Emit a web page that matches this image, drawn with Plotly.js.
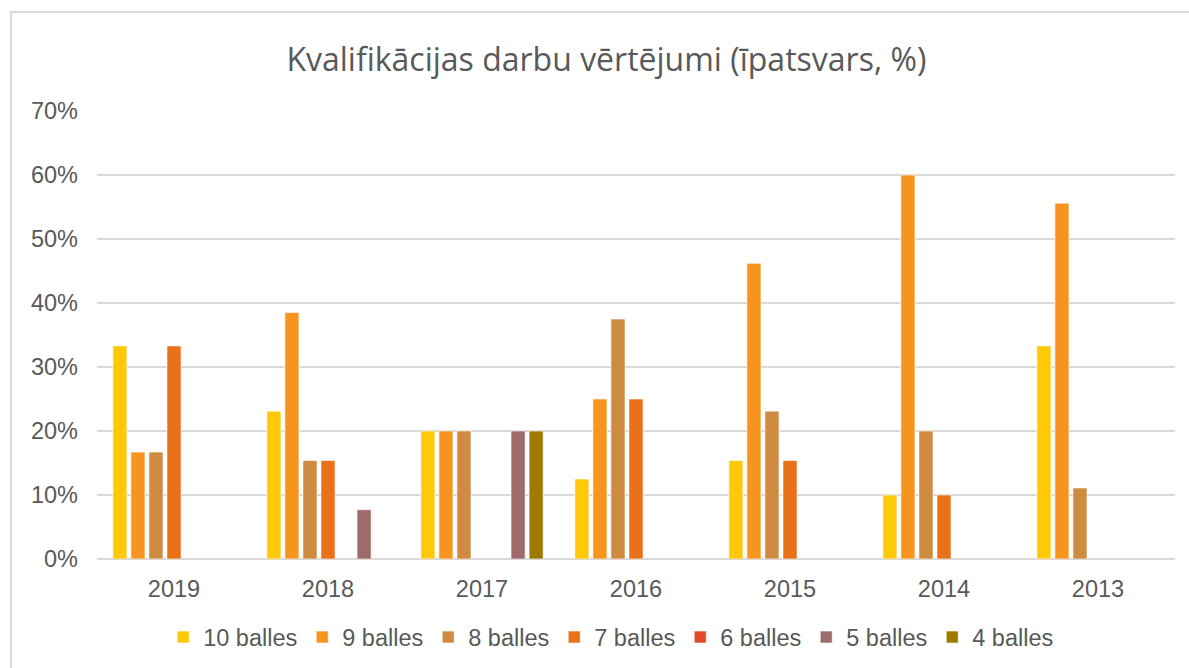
<!DOCTYPE html>
<html>
<head>
<meta charset="utf-8">
<script src="https://cdn.plot.ly/plotly-3.0.1.min.js"></script>
<style>
  html, body { margin: 0; padding: 0; background: #fff; overflow: hidden; }
  #chart { width: 1189px; height: 668px; }
  #frame { position: absolute; left: 10px; top: 11px; width: 1200px; height: 700px;
           border: 2px solid #d9d9d9; pointer-events: none; }
</style>
</head>
<body>
<div id="chart"></div>
<div id="frame"></div>
<script>
const years = ['2019', '2018', '2017', '2016', '2015', '2014', '2013'];
const seriesNames = ['10 balles', '9 balles', '8 balles', '7 balles', '6 balles', '5 balles', '4 balles'];
const balles10 = [0.333, 0.231, 0.20, 0.125, 0.154, 0.10, 0.333];
const balles9  = [0.167, 0.385, 0.20, 0.25, 0.462, 0.60, 0.556];
const balles8  = [0.167, 0.154, 0.20, 0.375, 0.231, 0.20, 0.111];
const balles7  = [0.333, 0.154, null, 0.25, 0.154, 0.10, null];
const balles6  = [null, null, null, null, null, null, null];
const balles5  = [null, 0.077, 0.20, null, null, null, null];
const balles4  = [null, null, 0.20, null, null, null, null];
const colors = ['#FFC90A', '#F7941E', '#CF8B3F', '#EB7119', '#E34A27', '#9E6A6A', '#9E7B00'];

const allSeries = [balles10, balles9, balles8, balles7, balles6, balles5, balles4];
const traces = allSeries.map((vals, i) => ({
  type: 'bar',
  name: seriesNames[i],
  x: years,
  y: vals,
  marker: { color: colors[i], line: { color: 'rgba(255,255,255,0.6)', width: 1 } },
  hoverinfo: 'x+y+name'
}));

const layout = {
  width: 1189,
  height: 668,
  paper_bgcolor: '#ffffff',
  plot_bgcolor: '#ffffff',
  margin: { l: 97, r: 14, t: 111, b: 109, autoexpand: false },
  barmode: 'group',
  bargap: 0.18,
  bargroupgap: 0.22,
  title: {
    text: 'Kvalifikācijas darbu vērtējumi (īpatsvars, %)',
    font: { family: 'Open Sans, Noto Sans, sans-serif', size: 32, color: '#595959' },
    x: 0.51, xanchor: 'center',
    y: 0.911, yanchor: 'middle'
  },
  font: { family: 'Liberation Sans, Arial, sans-serif', size: 23.5, color: '#595959' },
  xaxis: {
    type: 'category',
    showgrid: false,
    showline: false,
    zeroline: false,
    ticks: '',
    ticklabelstandoff: 13,
    tickfont: { size: 23.5, color: '#595959' }
  },
  yaxis: {
    range: [0, 0.7],
    dtick: 0.1,
    tick0: 0,
    tickformat: '.0%',
    showgrid: true,
    gridcolor: '#d9d9d9',
    gridwidth: 1.5,
    zeroline: true,
    zerolinecolor: '#d9d9d9',
    zerolinewidth: 1.5,
    showline: false,
    ticks: '',
    ticklabelstandoff: 18,
    tickfont: { size: 23.5, color: '#595959' }
  },
  legend: {
    orientation: 'h',
    xref: 'container', yref: 'container',
    x: 0.514, xanchor: 'center',
    y: 0.046, yanchor: 'middle',
    font: { size: 23.5, color: '#595959' },
    traceorder: 'normal',
    itemwidth: 30
  },
  showlegend: true
};

Plotly.newPlot('chart', traces, layout, { displayModeBar: false, staticPlot: true });
</script>
</body>
</html>
